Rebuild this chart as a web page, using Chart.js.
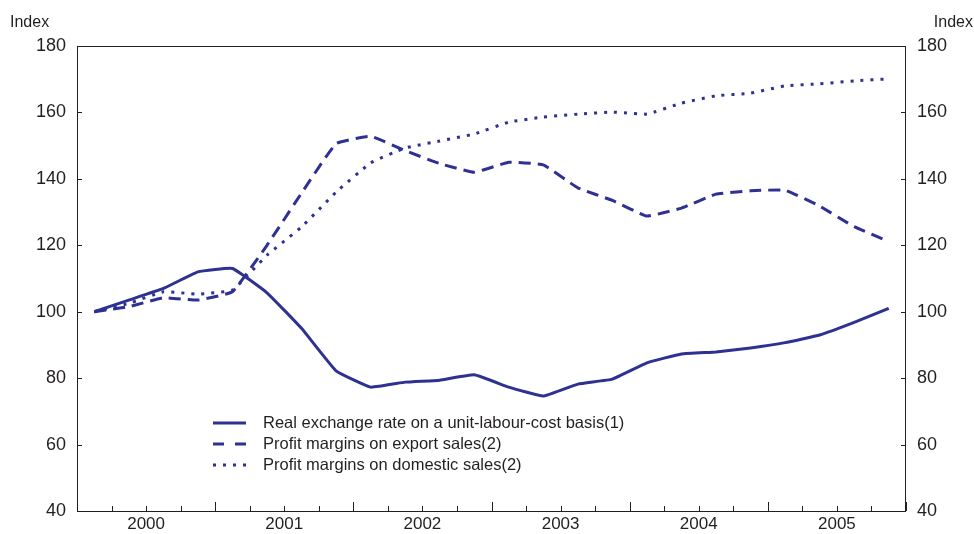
<!DOCTYPE html>
<html>
<head>
<meta charset="utf-8">
<script src="https://cdn.jsdelivr.net/npm/chart.js@4"></script>
<style>
  html, body { margin: 0; padding: 0; background: #fff; }
  #wrap { width: 974px; height: 534px; }
</style>
</head>
<body>
<div id="wrap"><canvas id="chart" width="974" height="534"></canvas></div>
<script>
// quarterly data, 2000Q1 .. 2005Q4
const years = ["2000", "2001", "2002", "2003", "2004", "2005"];
const yTicks = [40, 60, 80, 100, 120, 140, 160, 180];

const exchangeRate = [100, 103.5, 107, 112, 113, 105.7, 95, 82.2, 77.3, 78.8, 79.4, 81,
                      77.3, 74.6, 78.2, 79.7, 84.6, 87.3, 87.9, 89.1, 90.7, 93, 96.8, 101];
const exportMargins = [100, 101.5, 104.2, 103.5, 106, 120, 135.7, 150.6, 152.8, 148.5, 144.6, 142,
                       145, 144.2, 137.3, 133.5, 128.8, 131.2, 135.4, 136.4, 136.6, 131.8, 125.6, 121.1];
const domesticMargins = [100, 102.5, 106, 105.3, 106.5, 117, 125.5, 136, 144.8, 149.3, 151.4, 153.5,
                         157.1, 158.6, 159.5, 160.1, 159.5, 162.8, 165, 165.8, 168, 168.6, 169.5, 170.1];

const labels = [
    "Real exchange rate on a unit-labour-cost basis(1)",
    "Profit margins on export sales(2)",
    "Profit margins on domestic sales(2)"
];

const blue = "#2e3192";
const ink = "#231f20";
const font = "'Liberation Sans', Arial, sans-serif";

function pts(arr) {
    return arr.map((v, i) => ({ x: i + 0.5, y: v }));
}

const dashes = [[], [12, 7], [3, 7]];
const legendDashes = [[], [11, 11], [3, 7]];

const decor = {
    id: "decor",
    afterDraw(chart) {
        const ctx = chart.ctx;
        const a = chart.chartArea;
        const xs = chart.scales.x;
        const yl = chart.scales.y;
        const yr = chart.scales.y2;
        ctx.save();
        ctx.strokeStyle = ink;
        ctx.lineWidth = 1;
        ctx.strokeRect(a.left + 0.5, a.top + 0.5, a.right - a.left - 1, a.bottom - a.top);
        ctx.beginPath();
        for (let q = 0; q <= years.length * 4; q++) {
            const px = Math.round(xs.getPixelForValue(q)) + 0.5;
            const len = q % 4 === 0 ? 9 : 5;
            ctx.moveTo(px, a.bottom);
            ctx.lineTo(px, a.bottom - len);
        }
        yTicks.forEach(v => {
            const py = Math.round(yl.getPixelForValue(v)) + 0.5;
            ctx.moveTo(a.left, py);
            ctx.lineTo(a.left + 5, py);
            const pr = Math.round(yr.getPixelForValue(v)) + 0.5;
            ctx.moveTo(a.right, pr);
            ctx.lineTo(a.right - 5, pr);
        });
        ctx.stroke();

        ctx.fillStyle = ink;
        ctx.font = "16px " + font;
        ctx.textBaseline = "middle";
        ctx.textAlign = "left";
        ctx.fillText("Index", 10, 23);
        ctx.textAlign = "right";
        ctx.fillText("Index", 973, 23);

        // legend
        const lx = 213, tx = 263, rows = [423, 444, 465];
        ctx.font = "16.5px " + font;
        ctx.textAlign = "left";
        chart.data.datasets.forEach((ds, i) => {
            ctx.beginPath();
            ctx.strokeStyle = blue;
            ctx.lineWidth = 3;
            ctx.setLineDash(legendDashes[i]);
            ctx.moveTo(lx, rows[i]);
            ctx.lineTo(lx + 33, rows[i]);
            ctx.stroke();
            ctx.setLineDash([]);
            ctx.fillStyle = ink;
            ctx.fillText(ds.label, tx, rows[i]);
        });
        ctx.restore();
    }
};

const noGrid = { display: false, drawTicks: false, tickLength: 0 };

new Chart(document.getElementById("chart"), {
    type: "line",
    data: {
        datasets: [exchangeRate, exportMargins, domesticMargins].map((d, i) => ({
            label: labels[i],
            data: pts(d),
            borderColor: blue,
            borderWidth: 3,
            borderDash: dashes[i],
            pointRadius: 0,
            tension: 0.1,
            fill: false,
            yAxisID: "y"
        }))
    },
    options: {
        responsive: false,
        animation: false,
        layout: { padding: { top: 46, left: 0, right: 0, bottom: 0 } },
        plugins: { legend: { display: false }, tooltip: { enabled: false } },
        scales: {
            x: {
                type: "linear",
                min: 0,
                max: years.length * 4,
                grid: noGrid,
                border: { display: false },
                afterFit(s) { s.height = 23; },
                afterBuildTicks(s) {
                    s.ticks = years.map((y, i) => ({ value: i * 4 + 2 }));
                },
                ticks: {
                    color: ink,
                    font: { family: font, size: 17 },
                    padding: 3,
                    maxRotation: 0,
                    autoSkip: false,
                    callback: v => years[Math.floor(v / 4)]
                }
            },
            y: {
                position: "left",
                min: 40,
                max: 180,
                grid: noGrid,
                border: { display: false },
                afterFit(s) { s.width = 77; },
                afterBuildTicks(s) { s.ticks = yTicks.map(v => ({ value: v })); },
                ticks: { color: ink, font: { family: font, size: 18 }, padding: 11 }
            },
            y2: {
                position: "right",
                min: 40,
                max: 180,
                grid: noGrid,
                border: { display: false },
                afterFit(s) { s.width = 68; },
                afterBuildTicks(s) { s.ticks = yTicks.map(v => ({ value: v })); },
                ticks: { color: ink, font: { family: font, size: 18 }, padding: 11 }
            }
        }
    },
    plugins: [decor]
});
</script>
</body>
</html>
